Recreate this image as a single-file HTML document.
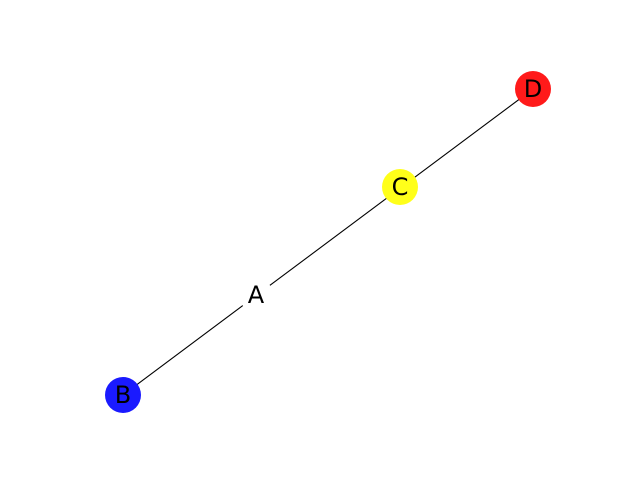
<!DOCTYPE html>
<html><head><meta charset="utf-8"><style>html,body{margin:0;padding:0;background:#fff}</style></head>
<body>
<svg width="640" height="480" viewBox="0 0 640 480" xmlns="http://www.w3.org/2000/svg">
<rect width="640" height="480" fill="#fff"/>
<line x1="123" y1="395" x2="533" y2="89" stroke="#000" stroke-width="1.1"/>
<circle cx="256" cy="295" r="17" fill="#fff"/>
<circle cx="123" cy="395" r="18" fill="#1a1aff"/>
<circle cx="400" cy="187" r="18" fill="#ffff1a"/>
<circle cx="533" cy="89" r="18" fill="#ff1a1a"/>
<g font-family="DejaVu Sans, sans-serif" font-size="24" text-anchor="middle" dominant-baseline="central" fill="#000">
<text x="256" y="295">A</text>
<text x="123" y="395">B</text>
<text x="400" y="187">C</text>
<text x="533" y="89">D</text>
</g>
</svg>
</body></html>
